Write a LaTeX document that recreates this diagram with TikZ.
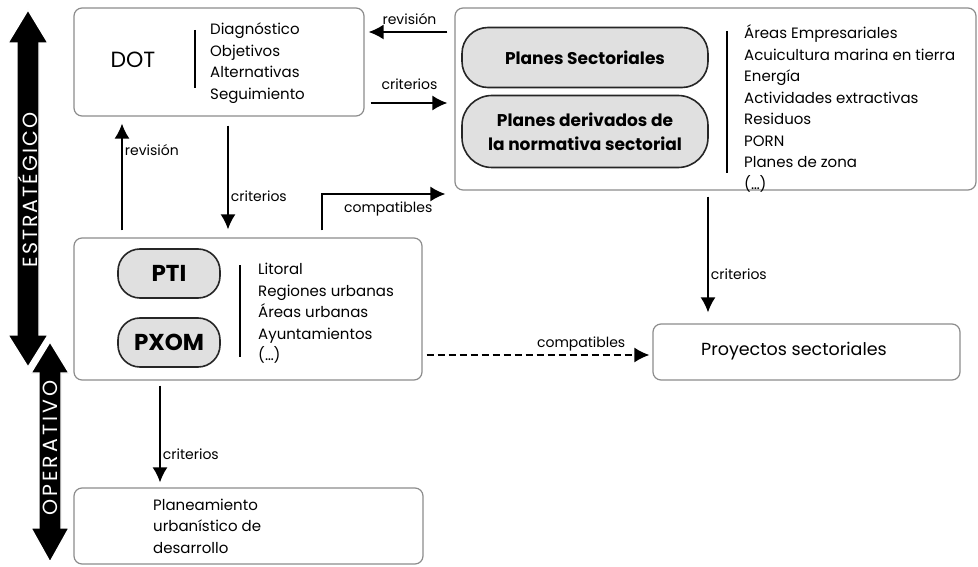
\documentclass[tikz,border=0pt]{standalone}
\usepackage{fontspec}
\setmainfont{Poppins}
\usetikzlibrary{arrows.meta}
\tikzset{
  box/.style={draw=black!45, line width=1.2pt, rounded corners=8pt, inner sep=0pt},
  pill/.style={draw=black!85, fill=black!12, line width=1.6pt, inner sep=0pt, align=center,
    font=\bfseries\fontsize{17}{24}\selectfont},
  sbar/.style={line width=2.6pt},
  arr/.style={line width=1.8pt, -{Latex[length=15pt,width=15pt]}},
  lbl/.style={font=\fontsize{14}{16}\selectfont, inner sep=2pt},
  lst/.style={align=left, inner sep=0pt, font=\fontsize{15}{21.5}\selectfont, anchor=west},
  bigarrow/.style={fill=black, draw=white, line width=1.3pt},
  bigtxt/.style={text=white, rotate=90},
}
\begin{document}
\begin{tikzpicture}[x=1pt,y=-1pt]
\useasboundingbox (0,0) rectangle (978,567);
% big arrows
\path[bigarrow] (28,10) -- (48,43) -- (39,43) -- (39,335) -- (48,335) -- (28,367) -- (8,335) -- (17,335) -- (17,43) -- (8,43) -- cycle;
\node[bigtxt, font=\fontsize{20.5}{24}\selectfont\addfontfeature{LetterSpace=10}] (estr) at (28,190) {ESTRATÉGICO};
\path[bigarrow] (50,342) -- (69,373) -- (61,373) -- (61,528) -- (69,528) -- (50,562) -- (31,528) -- (39,528) -- (39,373) -- (31,373) -- cycle;
\node[bigtxt, font=\fontsize{20.5}{24}\selectfont\addfontfeature{LetterSpace=15}] (oper) at (50,448) {OPERATIVO};
% boxes
\node[box, minimum width=290pt, minimum height=108pt] (dot) at (219,62) {};
\node[box, minimum width=521pt, minimum height=182pt] (planes) at (715.5,99) {};
\node[box, minimum width=348pt, minimum height=142pt] (pti) at (248,309) {};
\node[box, minimum width=307pt, minimum height=56pt] (proy) at (806.5,352) {};
\node[box, minimum width=349pt, minimum height=76pt] (plan) at (248.5,526) {};
% DOT content
\node[font=\fontsize{22}{24}\selectfont] (dott) at (133,60) {DOT};
\draw[sbar] (195,30) -- (195,88);
\node[lst] (dotl) at (210,63) {Diagnóstico\\Objetivos\\Alternativas\\Seguimiento};
% Planes content
\node[pill, minimum width=246pt, minimum height=60pt, rounded corners=26pt] (ps) at (585,57.5) {Planes Sectoriales};
\node[pill, minimum width=246pt, minimum height=72pt, rounded corners=30pt] (pd) at (585,131.5) {Planes derivados de\\la normativa sectorial};
\draw[sbar] (727,31) -- (727,173);
\node[lst] (pll) at (744,108.5) {Áreas Empresariales\\Acuicultura marina en tierra\\Energía\\Actividades extractivas\\Residuos\\PORN\\Planes de zona\\(\dots)};
% PTI content
\node[pill, font=\bfseries\fontsize{23}{24}\selectfont, minimum width=102pt, minimum height=49pt, rounded corners=22pt] (ptin) at (169,273.5) {PTI};
\node[pill, font=\bfseries\fontsize{23}{24}\selectfont, minimum width=102pt, minimum height=49pt, rounded corners=22pt] (pxom) at (169,342.5) {PXOM};
\draw[sbar] (240,265) -- (240,357);
\node[lst] (ptil) at (258,313.5) {Litoral\\Regiones urbanas\\Áreas urbanas\\Ayuntamientos\\(\dots)};
% Proyectos
\node[font=\fontsize{17.5}{20}\selectfont] (proyt) at (794,351) {Proyectos sectoriales};
% Planeamiento
\node[lst] (planl) at (153,526) {Planeamiento\\urbanístico de\\desarrollo};
% connectors
\draw[arr, shorten <=7pt, shorten >=4pt] (planes.west |- 0,32) -- (dot.east |- 0,32) node[midway, above=4pt, lbl] {revisión};
\draw[arr, shorten <=6pt, shorten >=7pt] (dot.east |- 0,103) -- (planes.west |- 0,103) node[midway, above=10pt, lbl] {criterios};
\draw[arr, shorten <=7pt, shorten >=7pt] (pti.north -| 122,0) -- (dot.south -| 122,0) node[pos=0.72, right, lbl] {revisión};
\draw[arr, shorten <=9pt, shorten >=8pt] (dot.south -| 228,0) -- (pti.north -| 228,0) node[pos=0.66, right, lbl] {criterios};
\draw[arr, shorten <=7pt, shorten >=9pt] (pti.north -| 322,0) |- (planes.west |- 0,194) node[pos=0.75, below=5pt, lbl] {compatibles};
\draw[arr, shorten <=6pt, shorten >=11pt] (planes.south -| 708,0) -- (proy.north -| 708,0) node[pos=0.63, right, lbl] {criterios};
\draw[arr, dashed, dash pattern=on 7pt off 4pt, shorten <=4pt, shorten >=3pt] (pti.east |- 0,355) -- (proy.west |- 0,355) node[pos=0.69, above=1pt, lbl] {compatibles};
\draw[arr, shorten <=5pt, shorten >=5pt] (pti.south -| 160,0) -- (plan.north -| 160,0) node[pos=0.69, right, lbl] {criterios};
\end{tikzpicture}
\end{document}
